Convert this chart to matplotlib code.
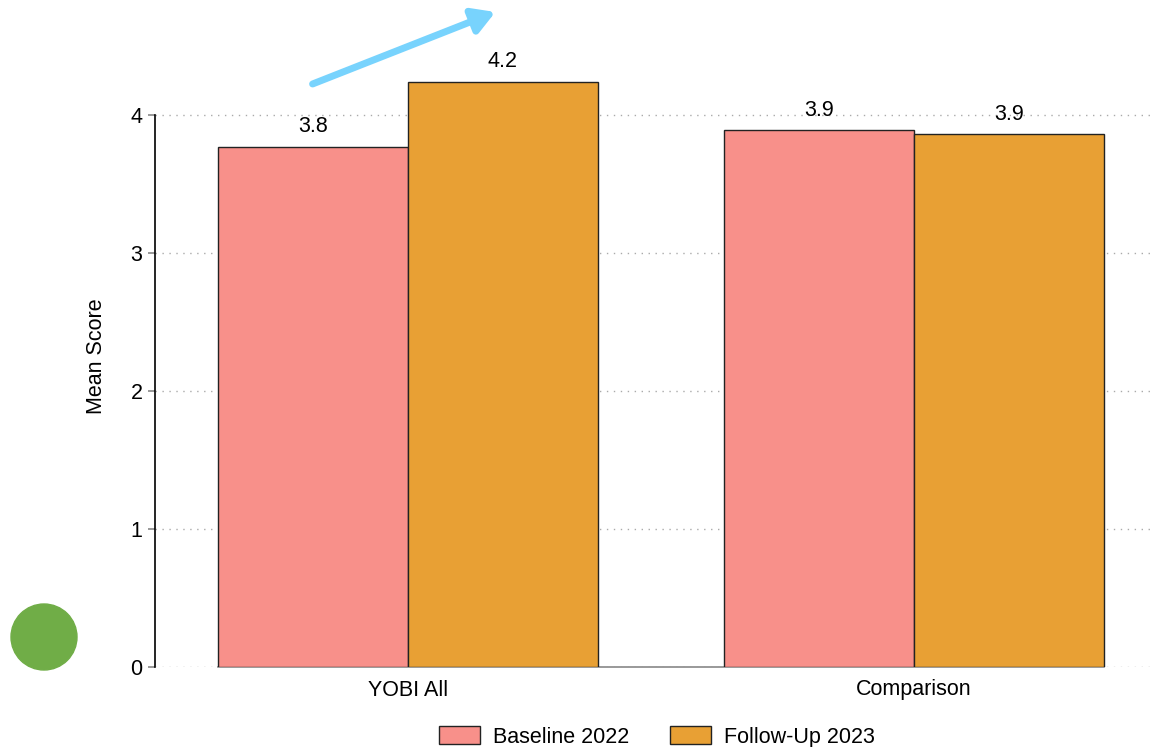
"""Mean score by group, baseline vs follow-up."""
import matplotlib
matplotlib.use("Agg")
import matplotlib.pyplot as plt
import numpy as np
from matplotlib.patches import Circle, FancyArrowPatch, Patch

plt.rcParams["font.family"] = ["Liberation Sans", "DejaVu Sans"]

GROUPS = ["YOBI All", "Comparison"]
BASELINE = [3.77, 3.89]
FOLLOWUP = [4.24, 3.86]
SERIES = ["Baseline 2022", "Follow-Up 2023"]
COLORS = ["#F8908A", "#E8A034"]

FS = 15.5
W, H = 1159, 747
fig = plt.figure(figsize=(W / 100, H / 100), dpi=100)
ax = fig.add_axes([155 / W, 1 - 667 / H, 1000 / W, 621 / H])

x = np.arange(len(GROUPS))
width = 0.375
for vals, off, color in zip([BASELINE, FOLLOWUP], [-width / 2, width / 2], COLORS):
    bars = ax.bar(x + off, vals, width, color=color, edgecolor="#222222", linewidth=1.0, zorder=3)
    for b, v in zip(bars, vals):
        ax.text(b.get_x() + b.get_width() / 2, v + 0.07, f"{v:.1f}",
                ha="center", va="bottom", fontsize=FS, zorder=4)

ax.set_xlim(-0.5, 1.476)
ax.set_ylim(0, 4.5)
ax.set_xticks(x)
ax.set_xticklabels(GROUPS, fontsize=FS)
ax.set_yticks(range(5))
ax.set_yticklabels([str(i) for i in range(5)], fontsize=FS)
ax.tick_params(axis="x", length=0, pad=9)
ax.tick_params(axis="y", length=5, color="#888888", width=1.2, pad=4)
ax.set_ylabel("Mean Score", fontsize=FS, labelpad=17)
ax.yaxis.grid(True, linestyle=(0, (1, 4)), color="#aaaaaa", linewidth=1.0, zorder=0)

for s in ["top", "right"]:
    ax.spines[s].set_visible(False)
ax.spines["left"].set_bounds(0, 4)
ax.spines["left"].set_linewidth(1.2)
ax.spines["bottom"].set_bounds(-width, 1 + width)
ax.spines["bottom"].set_color("#888888")
ax.spines["bottom"].set_linewidth(1.2)
ax.spines["bottom"].set_zorder(2)

handles = [Patch(facecolor=c, edgecolor="#222222", linewidth=1.0) for c in COLORS]
fig.legend(handles, SERIES, loc="center", bbox_to_anchor=(657 / W, 1 - 737 / H),
           ncol=2, frameon=False, fontsize=FS, handlelength=1.9, handleheight=0.85,
           columnspacing=1.9, handletextpad=0.6)

# trend arrow above the first group
arrow = FancyArrowPatch((310 / W, 1 - 85 / H), (498 / W, 1 - 11 / H),
                        transform=fig.transFigure, arrowstyle="-|>,head_length=6,head_width=3.5",
                        mutation_scale=2.2, color="#78D3FD", linewidth=5)
fig.add_artist(arrow)

# green dot, bottom-left
dot = Circle((44 / 100, (H - 637) / 100), 33 / 100, transform=fig.dpi_scale_trans,
             color="#70AD47")
fig.add_artist(dot)

fig.savefig("out.png", dpi=100)
